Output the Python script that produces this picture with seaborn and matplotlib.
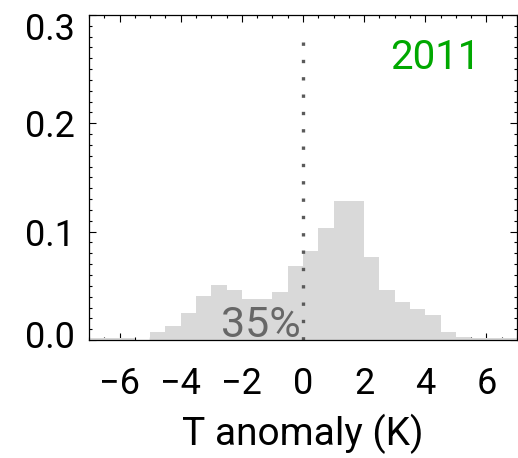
import matplotlib
matplotlib.use("Agg")
import matplotlib.pyplot as plt
from matplotlib.ticker import MultipleLocator, FixedLocator, FormatStrFormatter
from matplotlib.transforms import ScaledTranslation
import seaborn as sns

# Histogram of temperature anomalies, fraction of samples per 0.5 K bin
bin_left = [-7.0, -6.5, -6.0, -5.5, -5.0, -4.5, -4.0, -3.5, -3.0, -2.5,
            -2.0, -1.5, -1.0, -0.5, 0.0, 0.5, 1.0, 1.5, 2.0, 2.5,
            3.0, 3.5, 4.0, 4.5, 5.0, 5.5, 6.0, 6.5]
fraction = [0.002, 0.002, 0.002, 0.0, 0.007, 0.0125, 0.0245, 0.0405, 0.0508, 0.046,
            0.038, 0.038, 0.044, 0.0686, 0.082, 0.1037, 0.1286, 0.1286, 0.077, 0.046,
            0.0354, 0.0283, 0.023, 0.0071, 0.003, 0.002, 0.002, 0.002]
bin_width = 0.5
year_label = "2011"
share_below_zero = "35%"
x_ticks = [-6, -4, -2, 0, 2, 4, 6]
y_ticks = [0.0, 0.1, 0.2, 0.3]

sns.set_style("ticks")
plt.rcParams["font.family"] = ["Roboto", "DejaVu Sans"]
plt.rcParams.update({"text.color": "black", "axes.labelcolor": "black",
                     "xtick.color": "black", "ytick.color": "black",
                     "xtick.labelcolor": "black", "ytick.labelcolor": "black"})

fig = plt.figure(figsize=(5.18, 4.58), dpi=100)
ax = fig.add_axes([89 / 518, 118 / 458, 428 / 518, 325 / 458])

edges = bin_left + [bin_left[-1] + bin_width]
centers = [b + bin_width / 2 for b in bin_left]
sns.histplot(x=centers, weights=fraction, bins=edges, stat="count",
             color="#d9d9d9", alpha=1.0, linewidth=0, edgecolor="none", ax=ax)

ax.axvline(0, color="#5a5a5a", linewidth=2.4, linestyle=(0, (1, 4.2)),
           dash_capstyle="butt", ymax=0.945)

ax.text(-0.08, 0.003, share_below_zero, ha="right", va="baseline",
        fontsize=31, color="#676767")
ax.text(0.914, 0.833, year_label, transform=ax.transAxes, ha="right",
        va="baseline", fontsize=29, color="#00a800")

ax.set_xlim(-7, 7)
ax.set_ylim(0, 0.3)
ax.xaxis.set_major_locator(FixedLocator(x_ticks))
ax.xaxis.set_minor_locator(MultipleLocator(0.5))
ax.yaxis.set_major_locator(FixedLocator(y_ticks))
ax.yaxis.set_minor_locator(MultipleLocator(0.01))
ax.yaxis.set_major_formatter(FormatStrFormatter("%.1f"))

ax.tick_params(which="both", direction="in", top=True, right=True,
               width=0.8, color="black", labelcolor="black")
ax.tick_params(which="major", length=4.8, labelsize=26)
ax.tick_params(axis="y", which="major", pad=10)
ax.tick_params(axis="x", which="major", pad=19)
ax.tick_params(which="minor", length=2.5)
for s in ax.spines.values():
    s.set_linewidth(0.9)
    s.set_color("black")

# keep the outer y labels inside the frame height
fig.canvas.draw()
ylabels = ax.get_yticklabels()
shifts = {0: 6 / 100, len(ylabels) - 1: -11 / 100}
for i, dy in shifts.items():
    lab = ylabels[i]
    lab.set_transform(lab.get_transform() + ScaledTranslation(0, dy, fig.dpi_scale_trans))

ax.set_xlabel("T anomaly (K)", fontsize=28, labelpad=8, color="black")
ax.set_ylabel("")

fig.savefig("out.png", dpi=100)
